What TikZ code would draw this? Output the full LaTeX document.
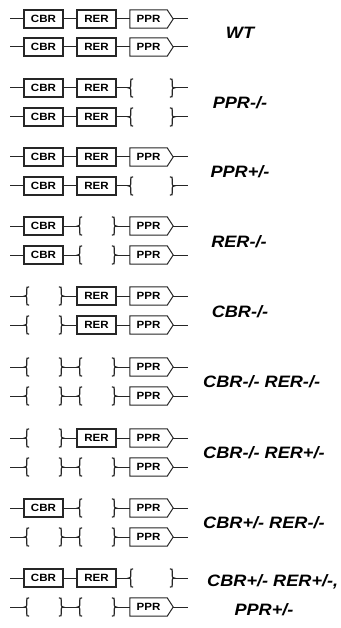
\documentclass[tikz,border=0pt]{standalone}
\usepackage{fontspec}
\setmainfont{Liberation Sans}
\newfontfamily\sfw[FakeStretch=1.1]{Liberation Sans}
\tikzset{
  conn/.style={line width=1pt, draw=black!85},
  boxl/.style={line width=1.2pt, draw=black!85},
  pboxl/.style={line width=1pt, draw=black!85},
  gbox/.style={boxl, rectangle, minimum width=39pt, minimum height=18pt, inner sep=0pt,
    font=\sfw\bfseries\fontsize{10.5}{12}\selectfont},
  pnode/.style={rectangle, minimum width=37pt, minimum height=18pt, inner sep=0pt,
    font=\sfw\bfseries\fontsize{10.5}{12}\selectfont},
  gapnode/.style={rectangle, minimum height=18pt, inner sep=0pt},
  br/.style={line width=1.2pt, draw=black!85, line cap=round},
  lab/.style={font=\sfw\bfseries\itshape\fontsize{16.5}{18}\selectfont, inner sep=0pt},
  lbr/.pic={\draw[br] (4,-9) .. controls (2,-9) .. (2,-7) -- (2,-2) .. controls (2,-0.5) and (1,0) .. (0,0)
      .. controls (1,0) and (2,0.5) .. (2,2) -- (2,7) .. controls (2,9) .. (4,9);},
  rbr/.pic={\draw[br] (-4,-9) .. controls (-2,-9) .. (-2,-7) -- (-2,-2) .. controls (-2,-0.5) and (-1,0) .. (0,0)
      .. controls (-1,0) and (-2,0.5) .. (-2,2) -- (-2,7) .. controls (-2,9) .. (-4,9);}
}
\newcommand\mkC[3]{\node[gbox] (#1) at (43.5,#3) {CBR};}
\newcommand\mkR[3]{\node[gbox] (#1) at (96.5,#3) {RER};}
\newcommand\mkP[3]{\node[pnode] (#1) at (148.5,#3) {PPR};
  \coordinate (#1o) at ([xshift=6pt]#1.east);
  \draw[pboxl] (#1.north west) -- (#1.north east) -- (#1o) -- (#1.south east) -- (#1.south west) -- cycle;}
\newcommand\mkG[3]{\ifcase#2\or\def\gl{25}\def\gr{63}\or\def\gl{78}\def\gr{116}\or\def\gl{129}\def\gr{174}\fi
  \node[gapnode, minimum width={\gr-\gl}] (#1) at ({(\gl+\gr)/2},#3) {};
  \pic at (#1.west) {lbr}; \pic at (#1.east) {rbr};
  \coordinate (#1o) at (#1.east);}
\newcommand\grow[5]{%
  \coordinate (#1s) at (10,#2);
  \csname mk#3\endcsname{#1a}{1}{#2}
  \csname mk#4\endcsname{#1b}{2}{#2}
  \csname mk#5\endcsname{#1c}{3}{#2}
  \coordinate (#1e) at (188,#2);
  \draw[conn] (#1s) -- (#1a.west) (#1a.east) -- (#1b.west) (#1b.east) -- (#1c.west) (#1co) -- (#1e);}
\begin{document}
\begin{tikzpicture}[x=1pt, y=-1pt]
\fill[white] (0,0) rectangle (340,628);
\useasboundingbox (0,0) rectangle (340,628);
\grow{r1}{19}{C}{R}{P}
\grow{r2}{47}{C}{R}{P}
\grow{r3}{88}{C}{R}{G}
\grow{r4}{117}{C}{R}{G}
\grow{r5}{157}{C}{R}{P}
\grow{r6}{186}{C}{R}{G}
\grow{r7}{226}{C}{G}{P}
\grow{r8}{255}{C}{G}{P}
\grow{r9}{296}{G}{R}{P}
\grow{r10}{325}{G}{R}{P}
\grow{r11}{367}{G}{G}{P}
\grow{r12}{396}{G}{G}{P}
\grow{r13}{438}{G}{R}{P}
\grow{r14}{467}{G}{G}{P}
\grow{r15}{508}{C}{G}{P}
\grow{r16}{537}{G}{G}{P}
\grow{r17}{578}{C}{R}{G}
\grow{r18}{607}{G}{G}{P}
\node[lab, anchor=base] (l1) at (240,39) {WT};
\node[lab, anchor=base] (l2) at (240,109) {PPR-/-};
\node[lab, anchor=base] (l3) at (240,178) {PPR+/-};
\node[lab, anchor=base] (l4) at (239,247) {RER-/-};
\node[lab, anchor=base] (l5) at (240,317) {CBR-/-};
\node[lab, anchor=base west] (l6) at (203,387) {CBR-/- RER-/-};
\node[lab, anchor=base west] (l7) at (203,458) {CBR-/- RER+/-};
\node[lab, anchor=base west] (l8) at (203,528) {CBR+/- RER-/-};
\node[lab, anchor=base west] (l9) at (207,586) {CBR+/- RER+/-,};
\node[lab, anchor=base] (l10) at (264,615) {PPR+/-};
\end{tikzpicture}
\end{document}
